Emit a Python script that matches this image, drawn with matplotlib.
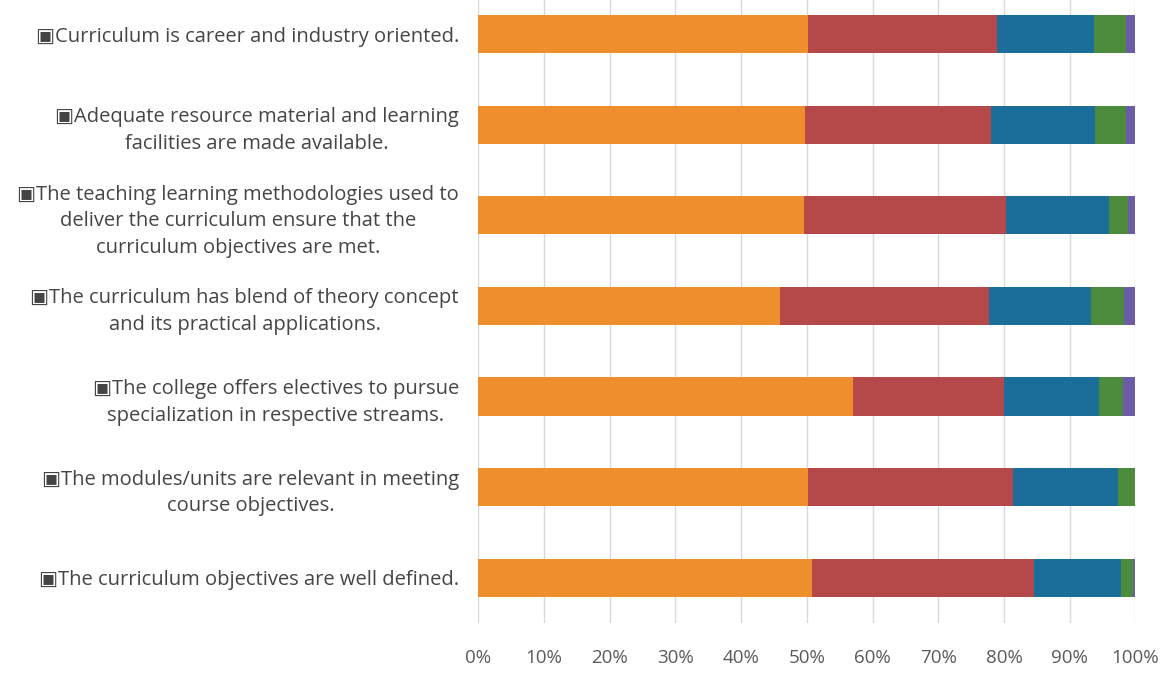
import matplotlib
matplotlib.use('Agg')
import matplotlib.pyplot as plt
import numpy as np
from matplotlib.ticker import PercentFormatter

# Categories, listed bottom to top as drawn by barh
categories = [
    '\u25a3The curriculum objectives are well defined.',
    '\u25a3The modules/units are relevant in meeting\ncourse objectives.',
    '\u25a3The college offers electives to pursue\nspecialization in respective streams.',
    '\u25a3The curriculum has blend of theory concept\nand its practical applications.',
    '\u25a3The teaching learning methodologies used to\ndeliver the curriculum ensure that the\ncurriculum objectives are met.',
    '\u25a3Adequate resource material and learning\nfacilities are made available.',
    '\u25a3Curriculum is career and industry oriented.',
]

# Share of responses per category (percent)
s1 = [50.8, 50.2, 57.0, 45.9, 49.6, 49.7, 50.1]
s2 = [33.7, 31.1, 23.0, 31.8, 30.7, 28.3, 28.9]
s3 = [13.3, 16.1, 14.5, 15.6, 15.6, 15.9, 14.7]
s4 = [1.8, 2.6, 3.6, 5.0, 3.0, 4.7, 4.8]
s5 = [0.4, 0.0, 1.9, 1.7, 1.1, 1.4, 1.5]

series = [s1, s2, s3, s4, s5]
colors = ['#EE8E2C', '#B5494A', '#1B6E99', '#4B8B3B', '#6B5CA5']

plt.rcParams['font.family'] = ['Open Sans', 'DejaVu Sans']

fig = plt.figure(figsize=(11.61, 6.74), dpi=100)
ax = fig.add_axes([0.412, 0.076, 0.566, 0.94])

y = np.arange(len(categories))
left = np.zeros(len(categories))
for vals, col in zip(series, colors):
    vals = np.array(vals)
    ax.barh(y, vals, left=left, height=0.42, color=col, zorder=3)
    left += vals

ax.set_xlim(0, 100)
ax.set_ylim(-0.5, len(categories) - 0.5)
ax.set_xticks(np.arange(0, 101, 10))
ax.xaxis.set_major_formatter(PercentFormatter(decimals=0))
ax.set_yticks(y)
ax.set_yticklabels(categories, multialignment='center', linespacing=1.45)

ax.grid(axis='x', color='#D9D9D9', linewidth=1, zorder=0)
for sp in ax.spines.values():
    sp.set_visible(False)
ax.tick_params(axis='y', length=0, pad=14, labelsize=14.5, labelcolor='#454545')
ax.tick_params(axis='x', length=0, pad=19, labelsize=13.5, labelcolor='#5A5A5A')

fig.savefig('out.png', dpi=100)
plt.close(fig)
